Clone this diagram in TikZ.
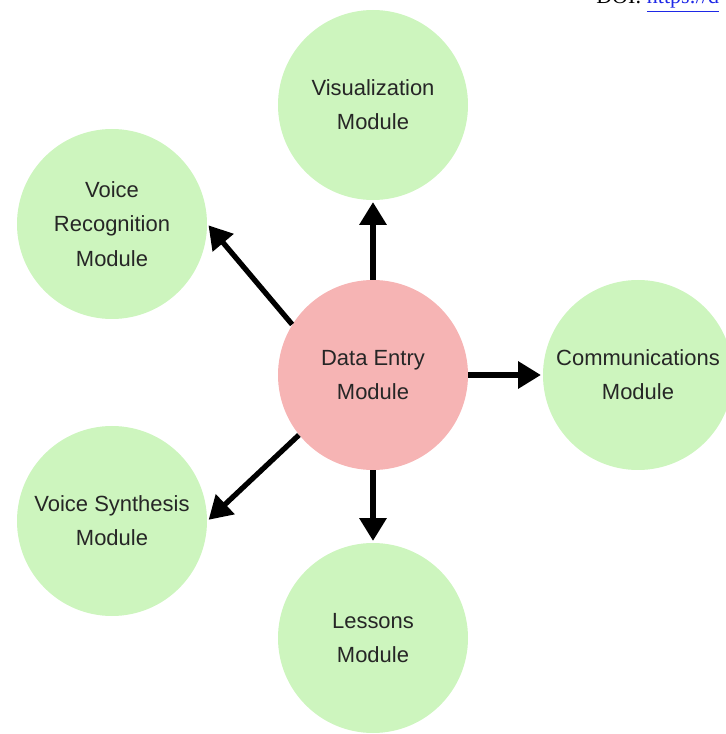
\documentclass[tikz,border=0pt]{standalone}
\usepackage{fontspec}
\setmainfont{Liberation Sans}
\newfontfamily\doifont{Liberation Serif}
\usetikzlibrary{arrows.meta}

\definecolor{modgreen}{RGB}{205,245,190}
\definecolor{modpink}{RGB}{246,180,180}
\definecolor{linkblue}{RGB}{30,40,230}

\begin{document}
\begin{tikzpicture}

% --- Styles ---
\tikzset{
    module/.style={circle, fill=modgreen, minimum size=3.8cm, inner sep=0pt,
        align=center, text=black!85, font=\fontsize{12.5}{19.5}\selectfont},
    core/.style={module, fill=modpink},
    arrow/.style={-{Triangle[width=15pt,length=13pt]}, line width=3pt, shorten >=1pt}
}

    \useasboundingbox (0,0) rectangle (14.52,14.68);
    \clip (0,0) rectangle (14.52,14.68);

    % Kop (afgesneden DOI-regel)
    \node[anchor=base west, inner sep=0pt, font=\doifont\fontsize{12.5}{15}\selectfont] (doi)
        at (11.92,14.60) {DOI: \textcolor{linkblue}{\underline{https://d}}};

    % Centrale module
    \node[core] (data) at (7.46,7.18) {Data Entry\\Module};

    % Omliggende modules
    \node[module] (vis)  at (7.46,12.58) {Visualization\\Module};
    \node[module] (vrec) at (2.24,10.20) {Voice\\Recognition\\Module};
    \node[module] (comm) at (12.76,7.18) {Communications\\Module};
    \node[module] (vsyn) at (2.24,4.26)  {Voice Synthesis\\Module};
    \node[module] (less) at (7.46,1.92)  {Lessons\\Module};

    % Pijlen vanuit de centrale module
    \draw[arrow] (data) -- (vis);
    \draw[arrow] (data) -- (comm);
    \draw[arrow] (data) -- (less);
    \draw[arrow] (data.148) -- (vrec.east);
    \draw[arrow] (data.219) -- (vsyn.east);

\end{tikzpicture}
\end{document}
